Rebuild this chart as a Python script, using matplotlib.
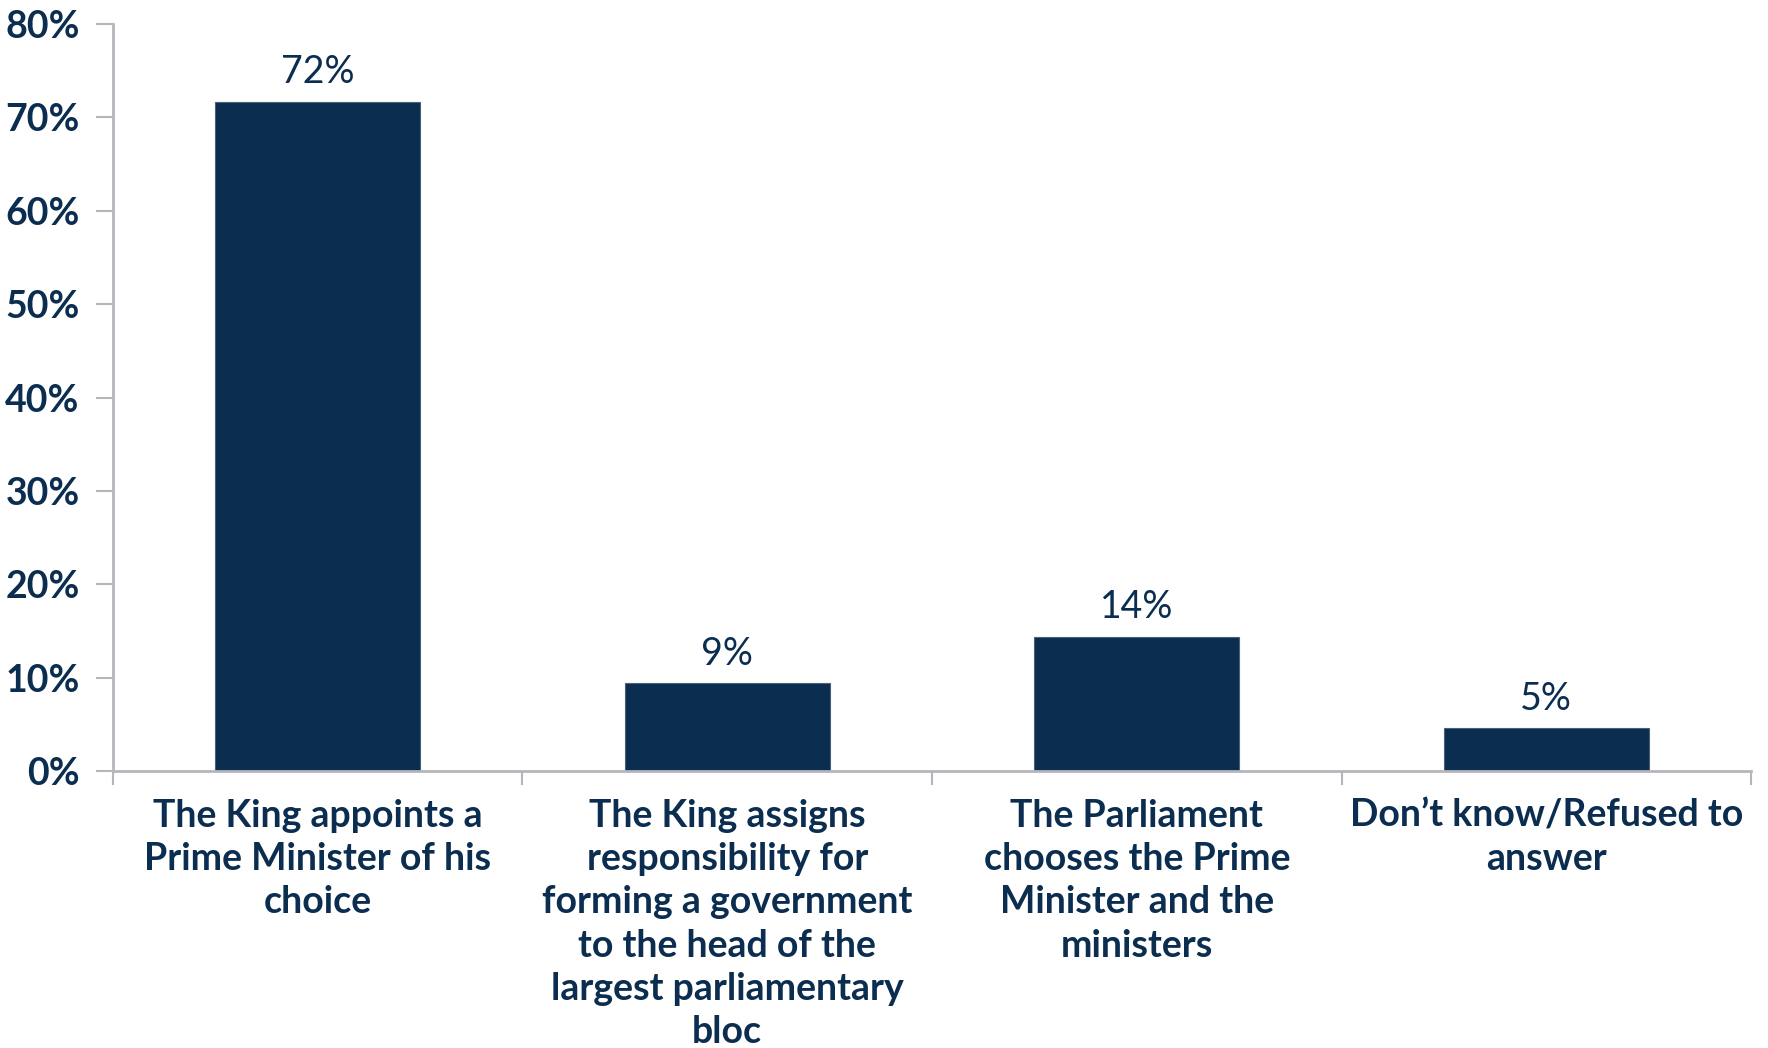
import numpy as np
import matplotlib
matplotlib.use('Agg')
import matplotlib.pyplot as plt
from matplotlib.ticker import FixedLocator, FuncFormatter

categories = [
	'The King appoints a\nPrime Minister of his\nchoice',
	'The King assigns\nresponsibility for\nforming a government\nto the head of the\nlargest parliamentary\nbloc',
	'The Parliament\nchooses the Prime\nMinister and the\nministers',
	'Don\u2019t know/Refused to\nanswer',
]
values = [71.7, 9.4, 14.4, 4.6]
value_labels = ['72%', '9%', '14%', '5%']
y_ticks = [0, 10, 20, 30, 40, 50, 60, 70, 80]

navy = '#0b2d4f'
axis_grey = '#b4b6bc'

plt.rcParams['font.family'] = ['Lato', 'DejaVu Sans']

fig = plt.figure(figsize=(17.68, 10.48), dpi=100)
ax = fig.add_axes([0.0639, 0.2643, 0.9265, 0.7127])

x = np.arange(len(categories))
bars = ax.bar(x, values, width=0.5, color=navy, edgecolor='#4a5f78', linewidth=0.8)

ax.set_xlim(-0.5, len(categories) - 0.5)
ax.set_ylim(0, 80)

ax.set_yticks(y_ticks)
ax.yaxis.set_major_formatter(FuncFormatter(lambda v, p: f'{int(v)}%'))
ax.tick_params(axis='y', direction='out', length=12, width=1.5, color=axis_grey,
	pad=12, labelsize=27, labelcolor=navy)
for lbl in ax.get_yticklabels():
	lbl.set_fontweight('bold')

ax.set_xticks(x)
ax.set_xticklabels(categories, fontsize=27, fontweight='bold', color=navy, linespacing=1.33)
ax.tick_params(axis='x', which='major', length=0, pad=20)
ax.xaxis.set_minor_locator(FixedLocator(np.arange(-0.5, len(categories), 1.0)))
ax.tick_params(axis='x', which='minor', direction='out', length=10, width=1.5, color=axis_grey)

for side in ['top', 'right']:
	ax.spines[side].set_visible(False)
for side in ['left', 'bottom']:
	ax.spines[side].set_color(axis_grey)
	ax.spines[side].set_linewidth(2)

for bar, lab in zip(bars, value_labels):
	ax.annotate(lab, (bar.get_x() + bar.get_width() / 2, bar.get_height()),
		xytext=(0, 8), textcoords='offset points', ha='center', va='bottom',
		fontsize=27, color=navy)

fig.savefig('out.png', dpi=100)
